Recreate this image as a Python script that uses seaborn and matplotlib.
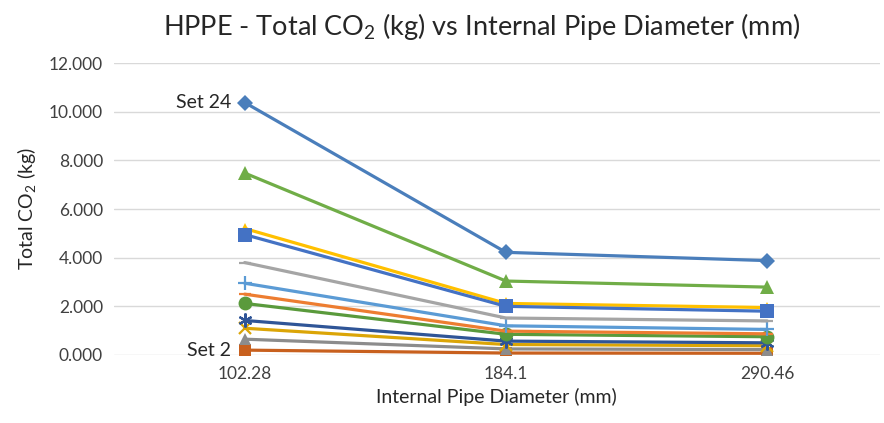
import matplotlib
matplotlib.use("Agg")
import matplotlib.pyplot as plt
import seaborn as sns
import pandas as pd

# ---- data ----
diameters = ["102.28", "184.1", "290.46"]
series_names = ["Set 2", "S3", "S4", "S5", "S6", "S7", "S8", "S9", "S11", "S10", "S12", "Set 24"]
set2 = [0.20, 0.08, 0.07]
s3 = [0.65, 0.25, 0.22]
s4 = [1.10, 0.43, 0.38]
s5 = [1.42, 0.57, 0.50]
s6 = [2.12, 0.85, 0.75]
s7 = [2.50, 0.98, 0.87]
s8 = [2.95, 1.20, 1.05]
s9 = [3.80, 1.52, 1.40]
s10 = [4.95, 2.00, 1.80]
s11 = [5.20, 2.12, 1.95]
s12 = [7.48, 3.04, 2.79]
set24 = [10.38, 4.22, 3.88]
all_values = [set2, s3, s4, s5, s6, s7, s8, s9, s11, s10, s12, set24]
ytick_values = [0, 2, 4, 6, 8, 10, 12]
ytick_labels = ["0.000", "2.000", "4.000", "6.000", "8.000", "10.000", "12.000"]

colors = ["#C8601E", "#8C8C8C", "#DBA507", "#2F5597", "#5A9A3C", "#ED7D31",
          "#5B9BD5", "#A5A5A5", "#FFC000", "#4472C4", "#70AD47", "#4A7EBB"]
markers = ["s", "^", "x", (6, 2, 0), "o", "_", "+", "_", "^", "s", "^", "D"]
msizes = [9, 9, 8, 10, 10, 8, 10, 8, 8, 10, 10, 8]

rows = []
for name, vals in zip(series_names, all_values):
    for i, v in enumerate(vals):
        rows.append({"series": name, "pos": i, "value": v})
df = pd.DataFrame(rows)

sns.set_theme(style="white")
plt.rcParams["font.family"] = ["Lato", "DejaVu Sans"]
plt.rcParams["mathtext.fontset"] = "custom"
plt.rcParams["mathtext.rm"] = "Lato"
plt.rcParams["mathtext.it"] = "Lato:italic"

fig = plt.figure(figsize=(8.84, 4.23), dpi=100)
ax = fig.add_axes([0.129, 0.1608, 0.866, 0.690])

for name, col, mk, ms in zip(series_names, colors, markers, msizes):
    sub = df[df["series"] == name]
    lined = mk in ["x", "+", "_"] or isinstance(mk, tuple)
    sns.lineplot(data=sub, x="pos", y="value", ax=ax, color=col, marker=mk,
                 markersize=ms, markeredgecolor=col, markeredgewidth=1.6 if lined else 0,
                 linewidth=2.3, legend=False)

ax.set_xlim(-0.5, 2.43)
ax.set_ylim(0, 12)
ax.set_xticks(range(len(diameters)))
ax.set_xticklabels(diameters)
ax.set_yticks(ytick_values)
ax.set_yticklabels(ytick_labels)
ax.tick_params(axis="both", length=0, labelsize=12.5, colors="#404040", pad=8)
ax.grid(axis="y", color="#D9D9D9", linewidth=1)
ax.set_axisbelow(True)
for sp in ax.spines.values():
    sp.set_visible(False)

ax.set_xlabel("Internal Pipe Diameter (mm)", fontsize=14, color="#262626", labelpad=4)
ax.set_ylabel("Total CO$_2$ (kg)", fontsize=14, color="#262626", labelpad=8)
fig.suptitle("HPPE - Total CO$_2$ (kg) vs Internal Pipe Diameter (mm)", fontsize=19.5,
             color="#262626", x=0.545, y=0.975)

ax.annotate("Set 24", xy=(0, set24[0]), xytext=(-10, 0), textcoords="offset points",
            ha="right", va="center", fontsize=14, color="#262626")
ax.annotate("Set 2", xy=(0, set2[0]), xytext=(-10, 0), textcoords="offset points",
            ha="right", va="center", fontsize=14, color="#262626")

fig.savefig("out.png", dpi=100)
